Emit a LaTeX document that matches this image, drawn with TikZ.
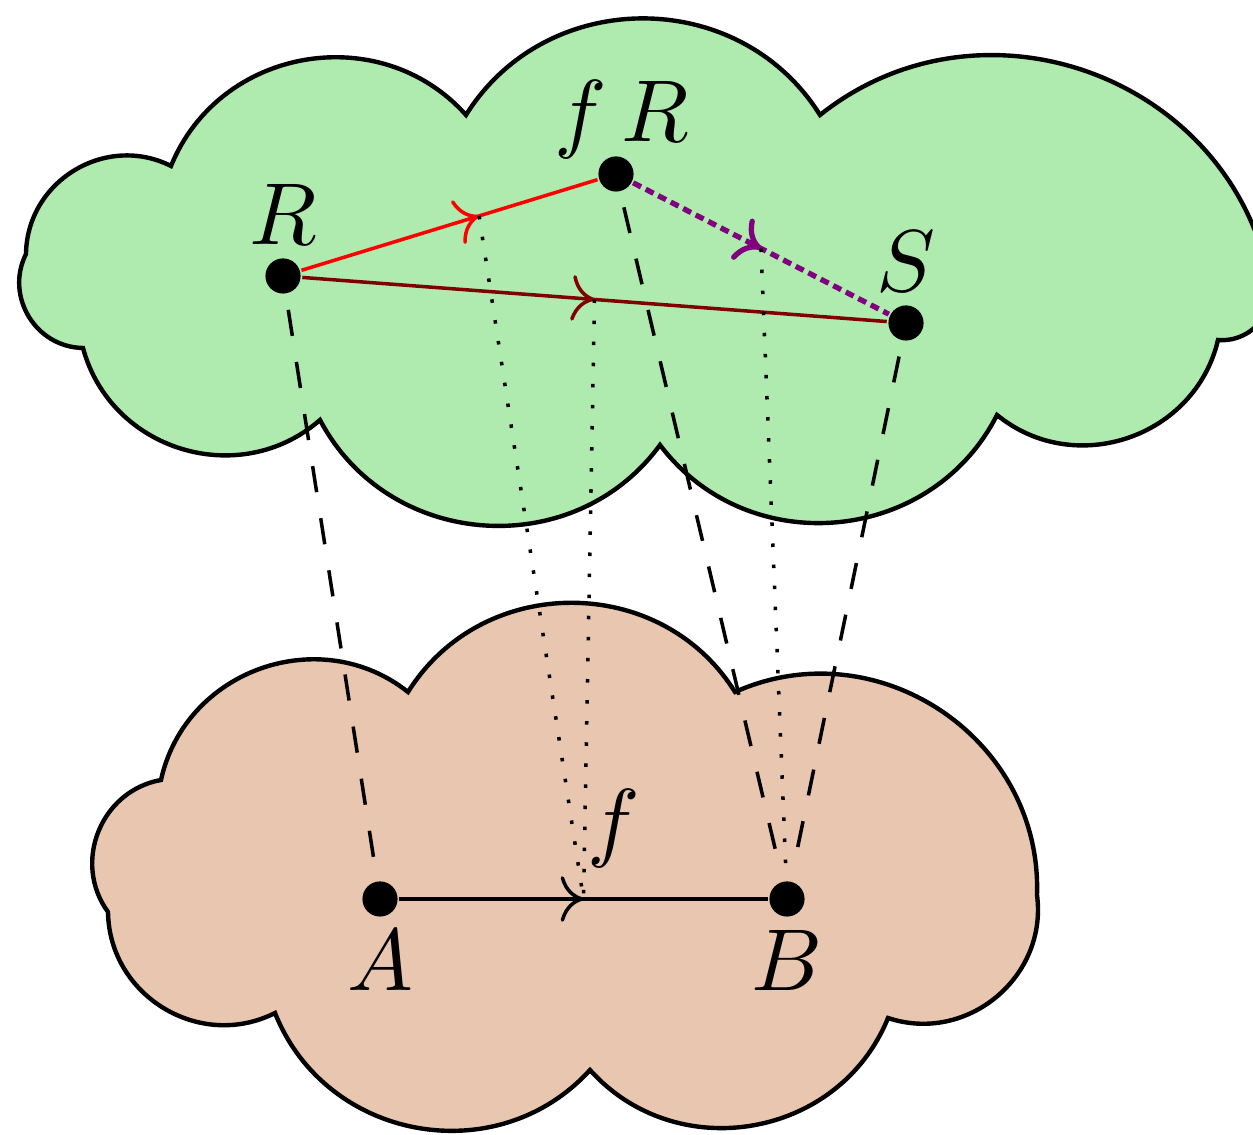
\documentclass[tikz,border=0pt]{standalone}
\usepackage{tikz}
\usetikzlibrary{calc, arrows.meta, decorations.markings}
\definecolor{cloudgreen}{RGB}{175,234,175}
\definecolor{cloudbrown}{RGB}{232,198,176}
\definecolor{mydarkred}{RGB}{128,0,0}
\definecolor{mypurple}{RGB}{128,0,128}
\tikzset{
  pt/.style={circle, fill=black, inner sep=0pt, minimum size=4pt},
  puff/.style={bend left=58, looseness=1.1},
  cloudline/.style={draw=black, line width=0.5pt},
  midarrow/.style={postaction={decorate}, decoration={markings,
    mark=at position #1 with {\arrow{To[length=2.6pt, width=5.2pt]}}}},
  proj/.style={dashed, shorten <=1.7pt, shorten >=1.7pt}
}
\begin{document}
\begin{tikzpicture}[x=0.4cm, y=0.4cm]
  \useasboundingbox (0,0) rectangle (12.53,11.35);
  % the two clouds
  \draw[cloudline, fill=cloudgreen] (0.26,8.81) to[puff] (1.71,9.69) to[puff] (4.66,10.20)
    to[puff] (8.20,10.20) to[puff] (12.68,8.62) to[puff] (12.18,7.95) to[puff] (9.97,7.20)
    to[puff] (6.60,6.90) to[puff] (3.20,7.15) to[puff] (0.83,7.87) to[puff] (0.26,8.81) -- cycle;
  \draw[cloudline, fill=cloudbrown] (1.08,2.23) to[puff] (1.61,3.55) to[puff] (4.08,4.43)
    to[puff] (7.35,4.43) to[puff] (10.37,2.40) to[puff] (8.88,1.17)
    to[puff] (5.90,0.65) to[puff] (2.75,1.22) to[puff] (1.08,2.23) -- cycle;

  % points
  \node[pt] (R) at (2.83,8.59) {};
  \node[pt] (fR) at (6.16,9.61) {};
  \node[pt] (S) at (9.06,8.12) {};
  \node[pt] (A) at (3.80,2.36) {};
  \node[pt] (B) at (7.87,2.36) {};

  % maps
  \draw[red, midarrow=0.6] (R) -- coordinate[pos=0.6] (m1) (fR);
  \draw[mydarkred, midarrow=0.5] (R) -- coordinate[pos=0.5] (m2) (S);
  \draw[mypurple, dash pattern=on 1pt off 0.6pt, semithick, midarrow=0.5] (fR) -- coordinate[pos=0.5] (m3) (S);
  \draw[midarrow=0.5] (A) -- coordinate[pos=0.5] (m4) (B);

  % projections
  \draw[proj] (R) -- (A);
  \draw[proj] (fR) -- (B);
  \draw[proj] (S) -- (B);
  \draw[dotted] (m1) -- (m4);
  \draw[dotted] (m2) -- (m4);
  \draw[dotted] (m3) -- (B);

  % labels
  \node[above] (lR) at (R) {$R$};
  \node[above] (lfR) at ($(fR)+(0.06,-0.16)$) {$f\,R$};
  \node[above] (lS) at (S) {$S$};
  \node[below] (lA) at (A) {$A$};
  \node[below] (lB) at (B) {$B$};
  \node[above right, xshift=-1.1mm] (lf) at (m4) {$f$};
\end{tikzpicture}
\end{document}
